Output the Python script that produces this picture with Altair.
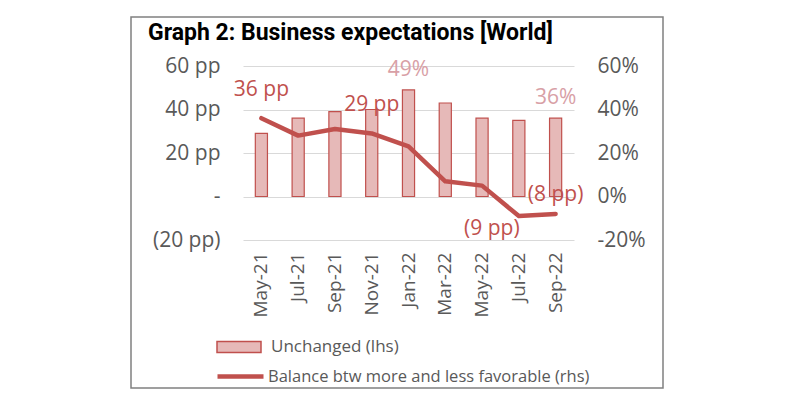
import altair as alt
import pandas as pd

months = ["May-21", "Jul-21", "Sep-21", "Nov-21", "Jan-22", "Mar-22", "May-22", "Jul-22", "Sep-22"]
unchanged = [29, 36, 39, 40, 49, 43, 36, 35, 36]
balance = [36, 28, 31, 29, 23, 7, 5, -9, -8]
line_labels = ["36 pp", "", "", "29 pp", "", "", "", "(9 pp)", "(8 pp)"]
bar_labels = ["", "", "", "", "49%", "", "", "", "36%"]
series_bar = "Unchanged (lhs)"
series_line = "Balance btw more and less favorable (rhs)"
title_text = "Graph 2: Business expectations [World]"

df = pd.DataFrame({
    "month": months,
    "unchanged": unchanged,
    "balance": balance,
    "ll": line_labels,
    "bl": bar_labels,
    "s1": series_bar,
    "s2": series_line,
})

RED = "#c0504d"
PINK = "#e6b9b8"
GRAY = "#595959"
FONT = "Open Sans"

yscale = alt.Scale(domain=[-20, 60])
xenc = alt.X("month:N", sort=months,
             scale=alt.Scale(paddingInner=0.67, paddingOuter=0.335),
             axis=alt.Axis(title=None, labelAngle=270, ticks=False, domain=False,
                           labelFont=FONT, labelFontSize=19, labelColor=GRAY,
                           labelPadding=12, grid=False))

base = alt.Chart(df).encode(x=xenc)

left_axis = alt.Axis(title=None, values=[-20, 0, 20, 40, 60], ticks=False, domain=False,
                     labelFont=FONT, labelFontSize=21, labelColor=GRAY, labelPadding=23,
                     gridColor="#d9d9d9", gridWidth=1.2,
                     labelExpr="datum.value == 0 ? '-' : (datum.value < 0 ? '(' + abs(datum.value) + ' pp)' : datum.value + ' pp')")
right_axis = alt.Axis(title=None, orient="right", values=[-20, 0, 20, 40, 60], ticks=False,
                      domain=False, grid=False, labelFont=FONT, labelFontSize=21,
                      labelColor=GRAY, labelPadding=23,
                      labelExpr="datum.value + '%'")

bars = base.mark_bar(stroke=RED, strokeWidth=1.2).encode(
    y=alt.Y("unchanged:Q", scale=yscale, axis=left_axis),
    fill=alt.Fill("s1:N", scale=alt.Scale(domain=[series_bar], range=[PINK]),
                  legend=alt.Legend(orient="none", legendX=-27, legendY=258, title=None,
                                    symbolType="M-1,-0.25H1V0.25H-1Z", symbolSize=1936,
                                    symbolStrokeColor=RED, symbolStrokeWidth=1.5,
                                    labelFont=FONT, labelFontSize=17, labelColor=GRAY,
                                    labelOffset=9, labelLimit=500)),
)
bar_text = base.mark_text(dy=-20, color="#d8a0a6", font=FONT, fontSize=21).encode(
    y=alt.Y("unchanged:Q", scale=yscale), text="bl:N")
left = alt.layer(bars, bar_text)

line = base.mark_line(strokeWidth=4.5, strokeJoin="round", strokeCap="round").encode(
    y=alt.Y("balance:Q", scale=yscale, axis=right_axis),
    stroke=alt.Stroke("s2:N", scale=alt.Scale(domain=[series_line], range=[RED]),
                      legend=alt.Legend(orient="none", legendX=-28, legendY=285, title=None,
                                        symbolType="stroke", symbolSize=2116,
                                        symbolStrokeWidth=4.5,
                                        labelFont=FONT, labelFontSize=16.5, labelColor=GRAY,
                                        labelOffset=2, labelLimit=500)),
)
ly = alt.Y("balance:Q", scale=yscale)
t_up = base.mark_text(dy=-28, color=RED, font=FONT, fontSize=21).encode(y=ly, text="ll:N") \
    .transform_filter("datum.ll == '36 pp' || datum.ll == '29 pp'")
t_up2 = base.mark_text(dy=-19, color=RED, font=FONT, fontSize=21).encode(y=ly, text="ll:N") \
    .transform_filter("datum.ll == '(8 pp)'")
t_down = base.mark_text(dy=13, dx=-27, color=RED, font=FONT, fontSize=21).encode(y=ly, text="ll:N") \
    .transform_filter("datum.ll == '(9 pp)'")
right = alt.layer(line, t_up, t_up2, t_down)

frame = alt.Chart(pd.DataFrame({"t": [title_text]})).mark_rect(
    fillOpacity=0, stroke="#808080", strokeWidth=1.5).encode(
    x=alt.value(-112), x2=alt.value(420), y=alt.value(-49), y2=alt.value(322))
title = alt.Chart(pd.DataFrame({"t": [title_text]})).mark_text(
    font="Roboto", fontWeight="bold", fontSize=23, color="#000000",
    align="left", baseline="alphabetic").encode(
    text="t:N", x=alt.value(-95), y=alt.value(-26))

chart = alt.layer(frame, title, left, right).resolve_scale(
    y="independent", fill="independent", stroke="independent"
).properties(
    width=331, height=174,
    autosize=alt.AutoSizeParams(type="none"),
    padding={"left": 235, "top": 58, "right": 100, "bottom": 160},
).configure_view(stroke=None)

chart.save("out.html", embed_options={"renderer": "svg", "actions": False})
